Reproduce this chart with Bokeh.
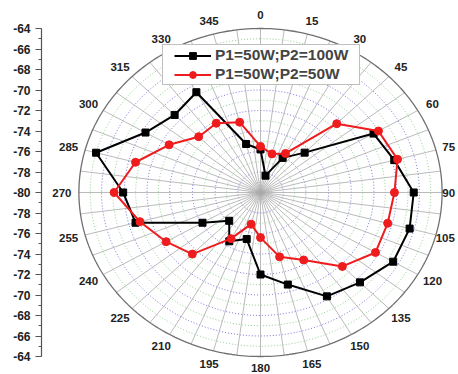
import numpy as np
from bokeh.plotting import figure
from bokeh.models import FixedTicker, Range1d, Legend, LegendItem
from bokeh.core.properties import value
from bokeh.embed import file_html
from bokeh.resources import INLINE

# ---- data ----
angles = list(range(0, 360, 15))
angle_labels = [str(a) for a in angles]
black_db = [-75.8, -78.3, -76.1, -74.5, -68.5, -67.8, -66.5, -66.4, -66.5, -67.6, -68.3, -70.7,
            -72.0, -75.3, -74.5, -76.1, -74.1, -68.6, -67.9, -65.0, -68.3, -69.3, -68.7, -75.1]
red_db = [-75.5, -76.1, -75.6, -70.5, -68.0, -67.5, -68.2, -68.4, -68.3, -69.8, -72.4, -73.5,
          -75.6, -76.8, -74.8, -71.5, -70.4, -69.0, -67.1, -68.6, -70.7, -72.3, -72.2, -72.9]
series_names = ["P1=50W;P2=100W", "P1=50W;P2=50W"]
r_min, r_max = -80, -64
radial_ticks = list(range(-80, -63, 2))

FONT = "Liberation Sans"

# ---- layout ----
W, H = 458, 374
LEFT = 41
cx_px, cy_px = 260, 192
sx, sy = 11.35, 10.25
x0, x1 = (LEFT - cx_px) / sx, (W - cx_px) / sx
y1, y0 = cy_px / sy, -(H - cy_px) / sy
R = r_max - r_min

p = figure(width=W, height=H, x_range=Range1d(x0, x1), y_range=Range1d(y0, y1),
           output_backend="svg", toolbar_location=None, x_axis_location=None,
           min_border_left=LEFT, min_border_right=0, min_border_top=0, min_border_bottom=0)
p.xgrid.visible = False
p.ygrid.visible = False
p.outline_line_color = None
p.background_fill_color = "white"

# left radial axis: -64 ... -80 ... -64
pos_ticks = [float(v - r_min) for v in radial_ticks]
major = sorted(set([-t for t in pos_ticks] + pos_ticks))
minor = [float(v) for v in range(-R, R + 1)]
ax = p.yaxis[0]
ax.ticker = FixedTicker(ticks=major, minor_ticks=minor)
ax.major_label_overrides = {t: str(int(r_min + abs(t))) for t in major}
ax.bounds = (-R, R)
ax.axis_line_color = "#555555"
ax.axis_line_width = 1.2
ax.major_tick_line_color = "#555555"
ax.minor_tick_line_color = "#555555"
ax.major_tick_out = 6
ax.major_tick_in = 0
ax.minor_tick_out = 3
ax.minor_tick_in = 0
ax.major_label_standoff = 5
ax.major_label_text_font = FONT
ax.major_label_text_font_style = "bold"
ax.major_label_text_font_size = "12px"
ax.major_label_text_color = "#222222"

# polar grid
th = np.linspace(0, 2 * np.pi, 361)
blue_x, blue_y, green_x, green_y = [], [], [], []
for k in range(1, R):
    xs = list(k * np.sin(th)); ys = list(k * np.cos(th))
    if k % 2 == 0:
        blue_x.append(xs); blue_y.append(ys)
    else:
        green_x.append(xs); green_y.append(ys)
p.multi_line(green_x, green_y, line_color="#88cc88", line_width=0.9, line_dash="1 2")
p.multi_line(blue_x, blue_y, line_color="#6a6ad8", line_width=0.9, line_dash="1 2")

spk = np.deg2rad(np.arange(0, 360, 7.5))
p.multi_line([[0, R * np.sin(a)] for a in spk], [[0, R * np.cos(a)] for a in spk],
             line_color="#aaaaaa", line_width=0.8)
p.line(R * np.sin(th), R * np.cos(th), line_color="#707070", line_width=1.3)

# angle labels
lab_rx, lab_ry = 17.5, 17.3
a_rad = np.deg2rad(angles)
lx = lab_rx * np.sin(a_rad)
ly = lab_ry * np.cos(a_rad)
xmax = np.array([(W - 2 - (len(s) * 3.4 + 1) - cx_px) / sx for s in angle_labels])
lx = np.minimum(lx, xmax)
ly = np.maximum(ly, (cy_px - 367) / sy)
p.text(x=lx, y=ly, text=angle_labels, text_align="center", text_baseline="middle",
       text_font=value(FONT), text_font_style="bold", text_font_size="11.5px", text_color="#222222")

# data
def polar_xy(vals):
    r = np.array(vals + vals[:1]) - r_min
    a = np.deg2rad(np.array(angles + angles[:1]))
    return r * np.sin(a), r * np.cos(a)

bx, by = polar_xy(black_db)
rx_, ry_ = polar_xy(red_db)
lb = p.line(bx, by, line_color="black", line_width=2)
sb = p.scatter(bx[:-1], by[:-1], marker="square", size=7, color="black")
lr = p.line(rx_, ry_, line_color="#ee1c1c", line_width=2)
sr = p.scatter(rx_[:-1], ry_[:-1], marker="circle", size=8, color="#ee1c1c")

legend = Legend(items=[LegendItem(label=series_names[0], renderers=[lb, sb]),
                       LegendItem(label=series_names[1], renderers=[lr, sr])],
                location=(121, 289))
legend.label_text_font = FONT
legend.label_text_font_style = "bold"
legend.label_text_font_size = "15.5px"
legend.glyph_width = 37
legend.glyph_height = 17
legend.label_height = 17
legend.label_standoff = 4
legend.spacing = 1
legend.margin = 0
try:
    legend.padding = (11, 1)
except Exception:
    legend.padding = 2
legend.border_line_color = "#808080"
legend.border_line_width = 1
legend.background_fill_color = "white"
legend.background_fill_alpha = 1.0
p.add_layout(legend)

open("out.html", "w").write(file_html(p, INLINE))
